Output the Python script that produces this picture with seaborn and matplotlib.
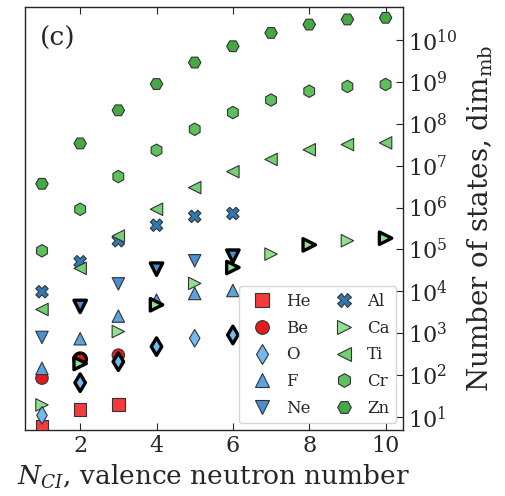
import numpy as np
import pandas as pd
import matplotlib
matplotlib.use("Agg")
import matplotlib.pyplot as plt
import seaborn as sns

# Elements and their many-body dimensions vs valence neutron number
elements = ["He", "Be", "O", "F", "Ne", "Al", "Ca", "Ti", "Cr", "Zn"]
n_he = [1, 2, 3]
dim_he = [6.2, 15, 20]
n_be = [1, 2, 3]
dim_be = [85, 240, 300]
n_o = [1, 2, 3, 4, 5, 6]
dim_o = [11, 66, 210, 480, 760, 910]
n_f = [1, 2, 3, 4, 5, 6]
dim_f = [145, 740, 2570, 6170, 8900, 10500]
n_ne = [1, 2, 3, 4, 5, 6]
dim_ne = [795, 4370, 15100, 33900, 53700, 69200]
n_al = [1, 2, 3, 4, 5, 6]
dim_al = [9800, 51000, 162000, 380000, 617000, 724000]
n_ca = [1, 2, 3, 4, 5, 6, 7, 8, 9, 10]
dim_ca = [19.5, 190, 1100, 4790, 15500, 37200, 77600, 129000, 162000, 186000]
n_ti = [1, 2, 3, 4, 5, 6, 7, 8, 9, 10]
dim_ti = [3700, 35500, 209000, 912000, 3.0e6, 7.2e6, 1.41e7, 2.4e7, 3.2e7, 3.5e7]
n_cr = [1, 2, 3, 4, 5, 6, 7, 8, 9, 10]
dim_cr = [93000, 912000, 5.5e6, 2.34e7, 7.4e7, 1.86e8, 3.7e8, 6.0e8, 7.8e8, 8.7e8]
n_zn = [1, 2, 3, 4, 5, 6, 7, 8, 9, 10]
dim_zn = [3.7e6, 3.4e7, 2.1e8, 8.9e8, 2.9e9, 7.1e9, 1.48e10, 2.34e10, 3.1e10, 3.4e10]

# points drawn with a thick black outline
highlight = {"Be": [2], "O": [2, 3, 4, 6], "Ne": [2, 4, 6], "Ca": [2, 4, 6, 8, 10]}

colors = {"He": "#f43a3a", "Be": "#e31a1c", "O": "#74b9f0", "F": "#5aa5e0",
          "Ne": "#4a90d0", "Al": "#2f79b5", "Ca": "#90e090", "Ti": "#74d074",
          "Cr": "#5cc05c", "Zn": "#45a845"}
markers = {"He": "s", "Be": "o", "O": "d", "F": "^", "Ne": "v", "Al": "X",
           "Ca": ">", "Ti": "<", "Cr": "h", "Zn": "H"}

series = {"He": (n_he, dim_he), "Be": (n_be, dim_be), "O": (n_o, dim_o),
          "F": (n_f, dim_f), "Ne": (n_ne, dim_ne), "Al": (n_al, dim_al),
          "Ca": (n_ca, dim_ca), "Ti": (n_ti, dim_ti), "Cr": (n_cr, dim_cr),
          "Zn": (n_zn, dim_zn)}

# drawing order (O sits on top of Ca in the original)
draw_order = ["He", "Be", "F", "Ne", "Al", "Ca", "O", "Ti", "Cr", "Zn"]
rows = []
for el in draw_order:
    ns, ds = series[el]
    for n, d in zip(ns, ds):
        rows.append({"element": el, "N": n, "dim": d,
                     "hl": n in highlight.get(el, [])})
df = pd.DataFrame(rows)

sns.set_style("ticks")
plt.rcParams["font.family"] = ["DejaVu Serif"]
plt.rcParams["mathtext.fontset"] = "dejavuserif"

fig = plt.figure(figsize=(5.06, 4.96), dpi=100)
ax = fig.add_axes([0.049, 0.133, 0.747, 0.853])

sns.scatterplot(data=df, x="N", y="dim", hue="element", style="element",
                hue_order=elements, style_order=elements, palette=colors,
                markers=markers, s=80, edgecolor="#333333", linewidth=0.8,
                ax=ax, zorder=3)
sns.scatterplot(data=df[df["hl"]], x="N", y="dim", hue="element", style="element",
                hue_order=elements, style_order=elements, palette=colors,
                markers=markers, s=80, edgecolor="black", linewidth=2.4,
                legend=False, ax=ax, zorder=4)

ax.set_yscale("log")
ax.set_xlim(0.55, 10.45)
ax.set_ylim(10 ** 0.69, 10 ** 10.79)
ax.set_xticks([2, 4, 6, 8, 10])
ax.yaxis.tick_right()
ax.yaxis.set_label_position("right")
ax.set_yticks([10.0 ** k for k in range(1, 11)])
ax.tick_params(axis="both", which="both", direction="in")
ax.tick_params(axis="x", top=True, labelsize=16, length=5)
ax.tick_params(axis="y", which="major", labelsize=16, length=5)
ax.tick_params(axis="y", which="minor", length=2.5)
for sp in ax.spines.values():
    sp.set_linewidth(1.0)

ax.set_xlabel(r"$N_{CI}$, valence neutron number", fontsize=19, labelpad=4)
ax.set_ylabel(r"Number of states, dim$_{\mathrm{mb}}$", fontsize=20, labelpad=6)
ax.text(0.04, 0.955, "(c)", transform=ax.transAxes, fontsize=19, va="top")

sns.move_legend(ax, "lower right", ncol=2, title=None, fontsize=12,
                frameon=True, columnspacing=1.0, handletextpad=0.4,
                labelspacing=0.58, borderaxespad=0.4, markerscale=1.1)

fig.savefig("out.png", dpi=100)
